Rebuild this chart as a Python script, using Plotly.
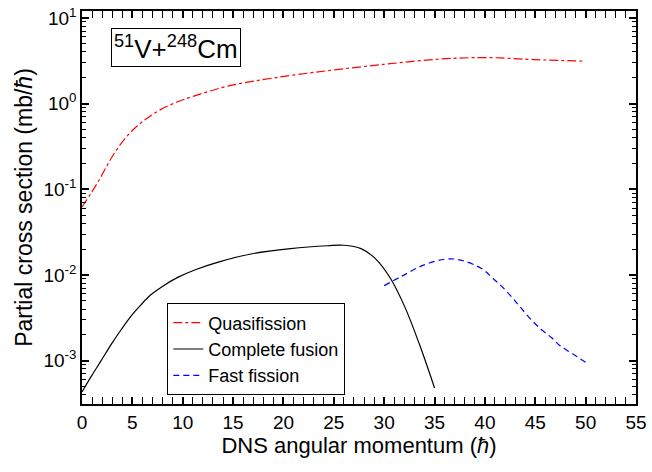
import plotly.graph_objects as go

# Quasifission
qf_L = [0, 0.9, 1.7, 2.6, 3.5, 4.5, 5.5, 6.5, 7.8, 9.5, 11.1, 14.5, 18.9, 24.4, 29.9, 35.3, 40.1, 44.9, 50]
qf_s = [0.062, 0.09, 0.128, 0.2, 0.296, 0.42, 0.55, 0.68, 0.85, 1.05, 1.22, 1.6, 1.98, 2.42, 2.86, 3.29,
        3.44, 3.26, 3.12]

# Complete fusion
cf_L = [0, 0.9, 1.9, 2.9, 3.9, 4.85, 5.85, 6.8, 8.1, 9.45, 11.25, 13.7, 17.0, 20.7, 24.4, 26.0, 27.7,
        29.1, 30.6, 32.1, 33.5, 35]
cf_s = [4.3e-4, 6.5e-4, 1.0e-3, 1.55e-3, 2.31e-3, 3.29e-3, 4.48e-3, 5.83e-3, 7.5e-3, 9.3e-3, 0.0115,
        0.0143, 0.0178, 0.0203, 0.0219, 0.0222, 0.0203, 0.0156, 9.2e-3, 4.1e-3, 1.55e-3, 4.8e-4]

# Fast fission
ff_L = [30, 31.7, 33.9, 36.1, 37.6, 39.7, 40.8, 41.8, 42.8, 43.6, 44.6, 45.6, 46.6, 47.5, 48.7, 50]
ff_s = [7.5e-3, 9.6e-3, 0.013, 0.0153, 0.0149, 0.0118, 9.1e-3, 7.1e-3, 5.3e-3, 4.1e-3, 3.0e-3,
        2.31e-3, 1.86e-3, 1.48e-3, 1.2e-3, 9.6e-4]

y_tickvals = [1e-3, 1e-2, 1e-1, 1, 10]
y_ticktext = ["10<sup>-3</sup>", "10<sup>-2</sup>", "10<sup>-1</sup>", "10<sup>0</sup>", "10<sup>1</sup>"]

X_RANGE = [0, 55]
Y_RANGE = [-3.506, 1.08]
FONT = "Liberation Sans, Arial, sans-serif"

fig = go.Figure()
fig.add_trace(go.Scatter(x=qf_L, y=qf_s, mode="lines", name="Quasifission",
                         line=dict(color="#ff0000", width=1.2, dash="dashdot", shape="spline")))
fig.add_trace(go.Scatter(x=cf_L, y=cf_s, mode="lines", name="Complete fusion",
                         line=dict(color="black", width=1.2, shape="spline")))
fig.add_trace(go.Scatter(x=ff_L, y=ff_s, mode="lines", name="Fast fission",
                         line=dict(color="#0000ff", width=1.2, dash="6px,4px", shape="spline")))
# invisible helper trace so the minor-tick overlay y axis is drawn
fig.add_trace(go.Scatter(x=cf_L, y=cf_s, mode="lines", yaxis="y2", opacity=0,
                         showlegend=False, hoverinfo="skip", line=dict(width=0)))

fig.update_layout(
    width=652, height=472,
    margin=dict(l=82, r=11, t=5, b=68),
    paper_bgcolor="white", plot_bgcolor="white",
    font=dict(family=FONT, color="black", size=19),
    showlegend=True,
    legend=dict(x=0.154, y=0.256, xanchor="left", yanchor="top",
                bordercolor="black", borderwidth=1, bgcolor="white",
                font=dict(size=18), tracegroupgap=0, itemwidth=30),
    annotations=[dict(text="<sup>51</sup>V+<sup>248</sup>Cm", xref="paper", yref="paper",
                      x=0.170, y=0.907, xanchor="center", yanchor="middle",
                      showarrow=False, font=dict(size=26, family=FONT),
                      bordercolor="black", borderwidth=1, borderpad=2, bgcolor="white")],
    xaxis=dict(range=X_RANGE, tick0=0, dtick=5, ticks="inside", ticklen=7, tickwidth=1.6,
               tickcolor="black",
               showline=True, linecolor="black", linewidth=1.5, mirror="allticks",
               showgrid=False, zeroline=False,
               minor=dict(dtick=1, ticks="inside", ticklen=4, tickwidth=1.4, tickcolor="black",
                          showgrid=False),
               title=dict(text="DNS angular momentum (<i>ħ</i>)", font=dict(size=22), standoff=6),
               tickfont=dict(size=19)),
    yaxis=dict(type="log", range=Y_RANGE, tickvals=y_tickvals, ticktext=y_ticktext,
               ticks="inside", ticklen=7, tickwidth=1.6, tickcolor="black",
               showline=True, linecolor="black", linewidth=1.5, mirror="allticks",
               showgrid=False, zeroline=False,
               title=dict(text="Partial cross section (mb/<i>ħ</i>)", font=dict(size=23), standoff=4),
               tickfont=dict(size=19)),
    yaxis2=dict(overlaying="y", anchor="x", side="left", type="log", range=Y_RANGE, dtick=1,
                ticks="inside", ticklen=7, tickwidth=1.6, tickcolor="black", showticklabels=False,
                showline=True, linecolor="black", linewidth=1.5, mirror="allticks",
                showgrid=False, zeroline=False,
                minor=dict(ticks="inside", ticklen=4, tickwidth=1.4, tickcolor="black", showgrid=False)),
)

fig.write_html("out.html")
